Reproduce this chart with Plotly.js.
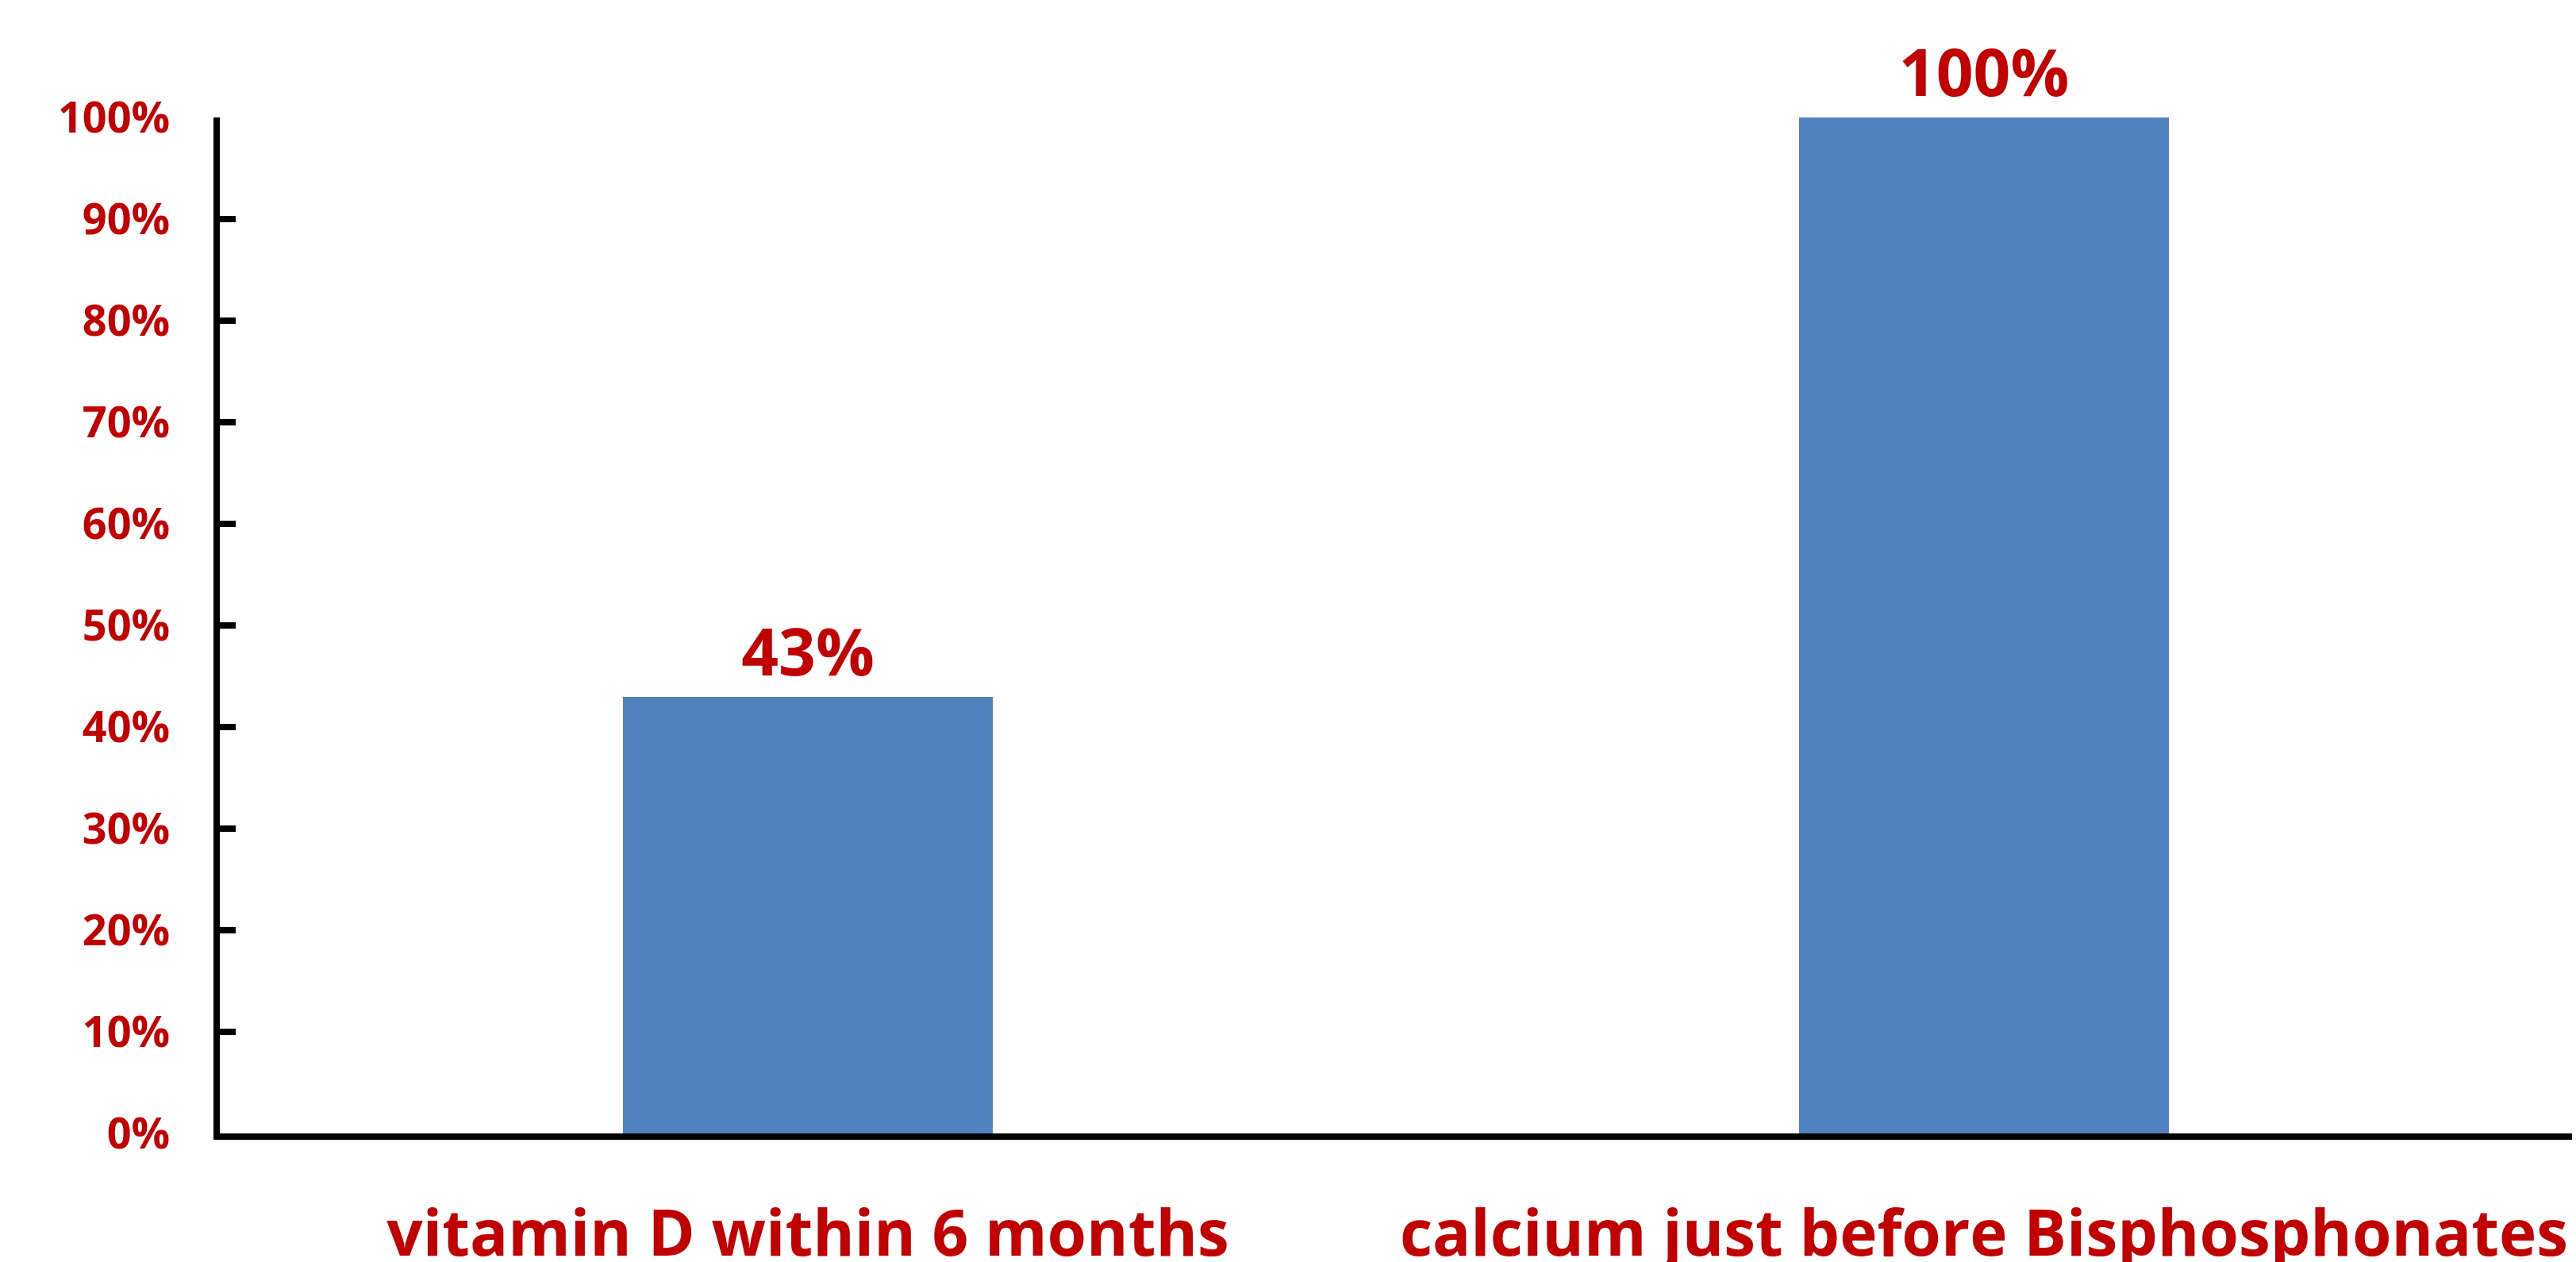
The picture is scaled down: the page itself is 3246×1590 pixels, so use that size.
<!DOCTYPE html>
<html>
<head>
<meta charset="utf-8">
<script src="https://cdn.plot.ly/plotly-3.0.1.min.js"></script>
<style>
  html, body { margin: 0; padding: 0; background: #ffffff; }
  #chart { width: 3246px; height: 1590px; }
</style>
</head>
<body>
<div id="chart"></div>
<script>
// Share of patients with each measurement done
const categories = ['vitamin D within 6 months', 'calcium just before Bisphosphonates'];
const shares = [0.43, 1.00];
const yTickValues = [0, 0.1, 0.2, 0.3, 0.4, 0.5, 0.6, 0.7, 0.8, 0.9, 1.0];

const RED = '#C00000';
const BLUE = '#4F81BD';
const FONT = '"Open Sans", "Noto Sans", sans-serif';

const trace = {
  type: 'bar',
  x: categories,
  y: shares,
  width: 0.315,
  marker: { color: BLUE, line: { width: 0 } },
  texttemplate: '%{y:.0%}',
  textposition: 'outside',
  cliponaxis: false,
  textfont: { family: FONT, size: 82, color: RED, weight: 700 },
  hoverinfo: 'skip'
};

const layout = {
  width: 3246,
  height: 1590,
  margin: { l: 277, r: 5, t: 148, b: 162 },
  paper_bgcolor: '#ffffff',
  plot_bgcolor: '#ffffff',
  showlegend: false,
  bargap: 0,
  xaxis: {
    type: 'category',
    range: [-0.5, 1.5],
    showline: true,
    linewidth: 8,
    linecolor: '#000000',
    ticks: '',
    showgrid: false,
    zeroline: false,
    ticklabelstandoff: 50,
    tickfont: { family: FONT, size: 80, color: RED, weight: 700 }
  },
  yaxis: {
    range: [0, 1],
    tickvals: yTickValues,
    tickformat: '.0%',
    showline: true,
    linewidth: 8,
    linecolor: '#000000',
    ticks: 'inside',
    ticklen: 20,
    tickwidth: 8,
    tickcolor: '#000000',
    showgrid: false,
    zeroline: false,
    ticklabelstandoff: 44,
    tickfont: { family: FONT, size: 54, color: RED, weight: 700 }
  }
};

Plotly.newPlot('chart', [trace], layout, { staticPlot: true, displayModeBar: false });
</script>
</body>
</html>
